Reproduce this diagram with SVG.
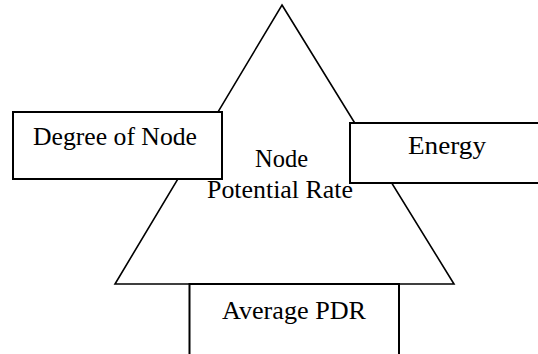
<svg xmlns="http://www.w3.org/2000/svg" width="538" height="354" viewBox="0 0 538 354">
  <style>
    .shape { fill: #ffffff; stroke: #000000; stroke-width: 2; }
    .tri { fill: #ffffff; stroke: #000000; stroke-width: 1.6; stroke-linejoin: miter; }
    .label { font-family: "Liberation Serif", "Times New Roman", serif; font-size: 25px; fill: #000000; }
  </style>
  <rect x="0" y="0" width="538" height="354" fill="#ffffff"/>
  <g id="node-potential-rate">
    <polygon class="tri" points="282,5 454,284 115,284"/>
    <text class="label" x="255" y="167" textLength="53" lengthAdjust="spacingAndGlyphs">Node</text>
    <text class="label" x="207" y="198" textLength="146" lengthAdjust="spacingAndGlyphs">Potential Rate</text>
  </g>
  <g id="degree-of-node">
    <rect class="shape" x="13" y="112" width="209" height="67"/>
    <text class="label" x="33" y="145" textLength="164" lengthAdjust="spacingAndGlyphs">Degree of Node</text>
  </g>
  <g id="energy">
    <rect class="shape" x="350" y="123" width="200" height="60"/>
    <text class="label" x="408" y="154" textLength="78" lengthAdjust="spacingAndGlyphs">Energy</text>
  </g>
  <g id="average-pdr">
    <rect class="shape" x="189.5" y="284" width="209.5" height="80"/>
    <text class="label" x="222" y="319" textLength="144" lengthAdjust="spacingAndGlyphs">Average PDR</text>
  </g>
</svg>
